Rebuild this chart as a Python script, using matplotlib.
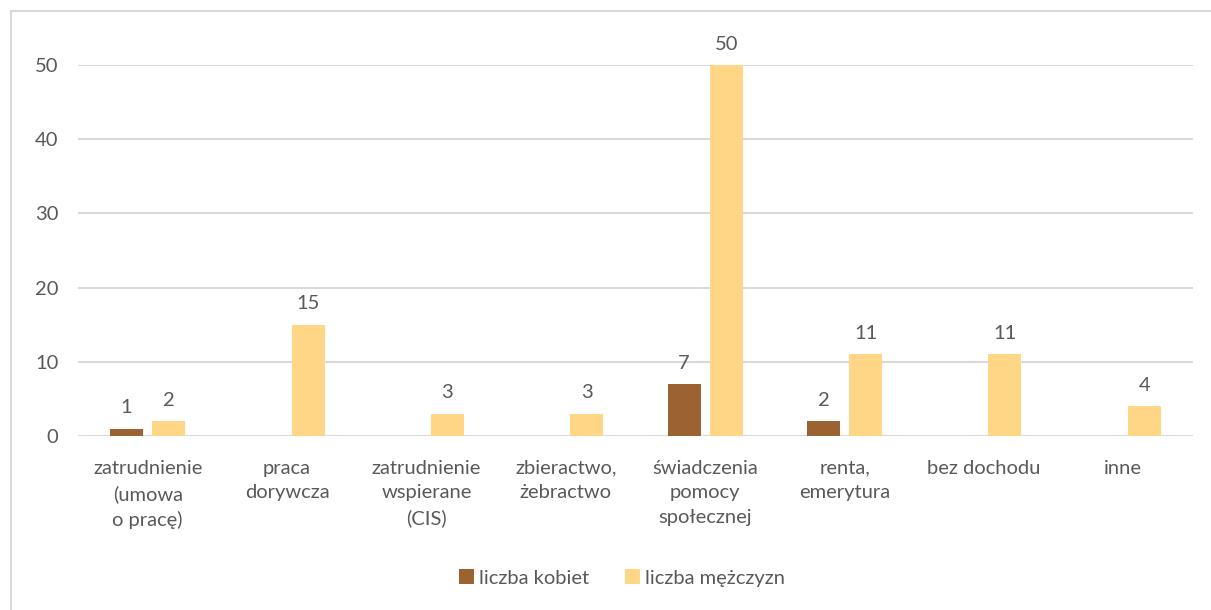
import matplotlib.pyplot as plt
import numpy as np
from matplotlib.patches import Rectangle

plt.rcParams['font.family'] = ['Lato', 'DejaVu Sans']

categories = ["zatrudnienie\n(umowa\no pracę)", "praca\ndorywcza",
              "zatrudnienie\nwspierane\n(CIS)", "zbieractwo,\nżebractwo",
              "świadczenia\npomocy\nspołecznej", "renta,\nemerytura",
              "bez dochodu", "inne"]
kobiety = [1, 0, 0, 0, 7, 2, 0, 0]
mezczyzni = [2, 15, 3, 3, 50, 11, 11, 4]
series_names = ["liczba kobiet", "liczba mężczyzn"]

c_k = '#9C6232'
c_m = '#FFD685'
grid_c = '#D9D9D9'
txt_c = '#595959'
fs = 14.5

fig = plt.figure(figsize=(12.11, 6.10), dpi=100)
ax = fig.add_axes([78 / 1211, 1 - 436 / 610, (1193 - 78) / 1211, (436 - 65) / 610])

x = np.arange(len(categories))
w = 0.237
off = 0.151
b1 = ax.bar(x - off, kobiety, w, color=c_k, label=series_names[0], zorder=3)
b2 = ax.bar(x + off, mezczyzni, w, color=c_m, label=series_names[1], zorder=3)

ax.bar_label(b1, labels=[str(v) if v else '' for v in kobiety], padding=9,
             fontsize=fs, color=txt_c)
ax.bar_label(b2, labels=[str(v) if v else '' for v in mezczyzni], padding=9,
             fontsize=fs, color=txt_c)

ax.set_xlim(-0.5, len(categories) - 0.5)
ax.set_ylim(0, 50)
ax.set_yticks(range(0, 51, 10))
ax.yaxis.grid(True, color=grid_c, linewidth=1.5, zorder=0)
ax.set_axisbelow(True)
for s in ax.spines.values():
    s.set_visible(False)
ax.axhline(0, color=grid_c, linewidth=1.5, zorder=2)
ax.tick_params(axis='both', length=0, labelsize=fs, labelcolor=txt_c)
ax.tick_params(axis='y', pad=14)
ax.tick_params(axis='x', pad=17)
ax.set_xticks(x)
ax.set_xticklabels(categories, linespacing=1.55, va='top')

fig.legend(loc='center', bbox_to_anchor=(622 / 1211, 1 - 578 / 610), ncol=2,
           frameon=False, fontsize=fs, labelcolor=txt_c, handlelength=0.75,
           handleheight=0.75, handletextpad=0.25, columnspacing=1.8)

fig.patches.append(Rectangle((11 / 1211, -0.1), 1.2, 1.1 - 11 / 610,
                             transform=fig.transFigure, fill=False,
                             edgecolor=grid_c, linewidth=1.5))

fig.savefig('out.png', dpi=100)
